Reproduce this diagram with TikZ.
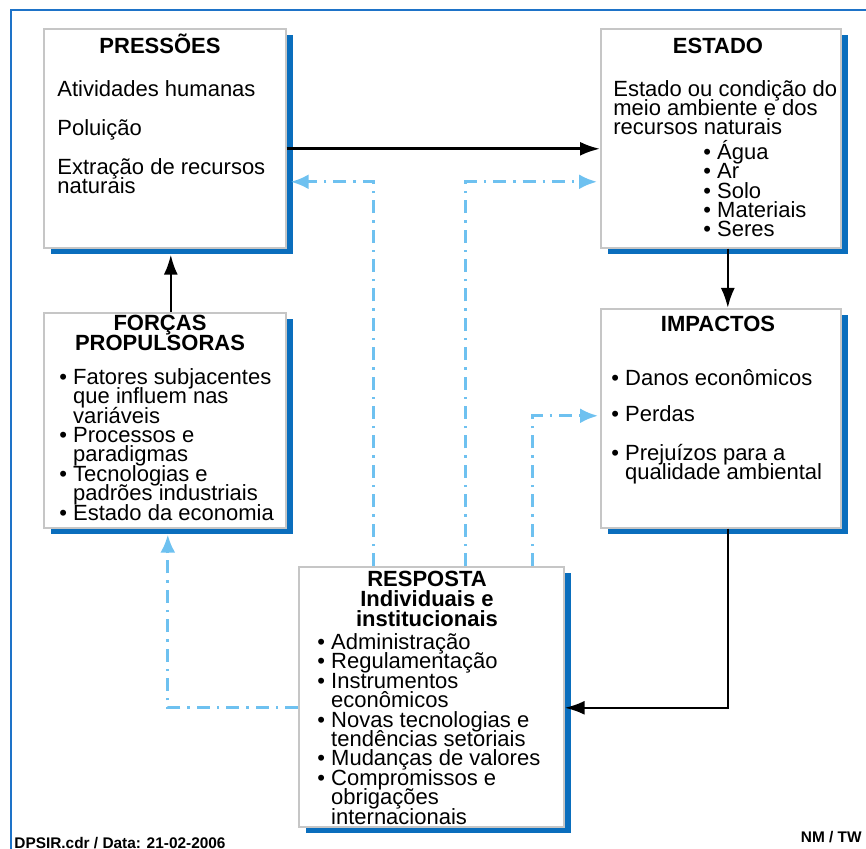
\documentclass[tikz,border=0pt]{standalone}
\usepackage{fontspec}
\setmainfont{Liberation Sans}
\usetikzlibrary{arrows.meta,shadows}
\definecolor{dpblue}{RGB}{10,110,189}
\definecolor{framecol}{RGB}{30,115,200}
\definecolor{fbblue}{RGB}{110,193,240}
\newcommand{\bul}{\textbullet\ }
\newcommand{\ind}{\phantom{\textbullet\ }}
\tikzset{
  panel/.style={draw=gray!45, line width=0.8pt, fill=white, anchor=north west, inner sep=0pt,
    drop shadow={shadow xshift=3.5pt, shadow yshift=-3pt, fill=dpblue, opacity=1}},
  paneltitle/.style={font=\fontsize{11pt}{10pt}\selectfont\bfseries, align=center, anchor=base, inner sep=0pt},
  paneltext/.style={font=\fontsize{11pt}{9.7pt}\selectfont, align=left, anchor=base west, inner sep=0pt},
  flowarrow/.style={-{Latex[length=10pt,width=7pt]}, line width=1.3pt, black},
  fbarrow/.style={-{Latex[length=9pt,width=7.5pt]}, line width=1.5pt, fbblue,
    dash pattern=on 6.5pt off 3.5pt on 1.2pt off 3.5pt},
  framebl/.style={line width=1pt, framecol},
  footnote/.style={font=\fontsize{7.7pt}{8pt}\selectfont\bfseries, inner sep=0pt}
}
\begin{document}
\setlength{\lineskiplimit}{-20pt}
\begin{tikzpicture}[x=0.5pt, y=-0.5pt, >=Latex]
  \useasboundingbox (0,0) rectangle (866,849);
  \draw[framebl] (866,10) -- (11,10) -- (11,849);

  % multi-line texts sit on the baseline of their last line
  \node[panel, minimum width=121pt, minimum height=109.5pt] (pres) at (43,28) {};
  \node[paneltitle] (presH) at (160,54) {PRESSÕES};
  \node[paneltext] (presB) at (57,194) {Atividades humanas\\[9.8pt]Poluição\\[9.8pt]Extração de recursos\\naturais};

  \node[panel, minimum width=120pt, minimum height=109.5pt] (est) at (600,28) {};
  \node[paneltitle] (estH) at (718,54) {ESTADO};
  \node[paneltext] (estB) at (613,135) {Estado ou condição do\\meio ambiente e dos\\recursos naturais};
  \node[paneltext] (estL) at (703,237) {\bul Água\\\bul Ar\\\bul Solo\\\bul Materiais\\\bul Seres};

  \node[panel, minimum width=121pt, minimum height=107.5pt] (for) at (43,312) {};
  \node[paneltitle] (forH) at (160,351) {FORÇAS\\PROPULSORAS};
  \node[paneltext] (forB) at (59,520) {\bul Fatores subjacentes\\\ind que influem nas\\\ind variáveis\\\bul Processos e\\\ind paradigmas\\\bul Tecnologias e\\\ind padrões industriais\\\bul Estado da economia};

  \node[panel, minimum width=120pt, minimum height=109.5pt] (imp) at (600,308) {};
  \node[paneltitle] (impH) at (718,332) {IMPACTOS};
  \node[paneltext] (impB) at (611,480) {\bul Danos econômicos\\[8.3pt]\bul Perdas\\[9.8pt]\bul Prejuízos para a\\\ind qualidade ambiental};

  \node[panel, minimum width=132.5pt, minimum height=130pt] (resp) at (298,566) {};
  \node[paneltitle] (respH) at (427,626) {RESPOSTA\\Individuais e\\institucionais};
  \node[paneltext] (respB) at (317,824) {\bul Administração\\\bul Regulamentação\\\bul Instrumentos\\\ind econômicos\\\bul Novas tecnologias e\\\ind tendências setoriais\\\bul Mudanças de valores\\\bul Compromissos e\\\ind obrigações\\\ind internacionais};

  \draw[flowarrow] ([yshift=-5.25pt]pres.east) -- ([yshift=-5.25pt]est.west);
  \draw[flowarrow] ([xshift=3.5pt]est.south) -- ([xshift=3.5pt]imp.north);
  \draw[flowarrow] ([xshift=3.5pt]imp.south) |- ([yshift=-5.5pt]resp.east);
  \draw[flowarrow] ([xshift=3pt]for.north) -- ([xshift=3pt,yshift=-3pt]pres.south);

  \draw[fbarrow] ([xshift=-28.75pt]resp.north) |- ([xshift=2pt,yshift=-21.75pt]pres.east);
  \draw[fbarrow] ([xshift=17.25pt]resp.north) |- ([xshift=-1.5pt,yshift=-21.75pt]est.west);
  \draw[fbarrow] ([xshift=50.75pt]resp.north) |- ([xshift=-1pt,yshift=1.25pt]imp.west);
  \draw[fbarrow] ([yshift=-5.5pt]resp.west) -| ([xshift=1.5pt,yshift=-3pt]for.south);

  \node[footnote, anchor=base west] (file) at (14,848) {DPSIR.cdr / Data: 21-02-2006};
  \node[footnote, anchor=base east] (auth) at (862,842) {NM / TW};
\end{tikzpicture}
\end{document}
